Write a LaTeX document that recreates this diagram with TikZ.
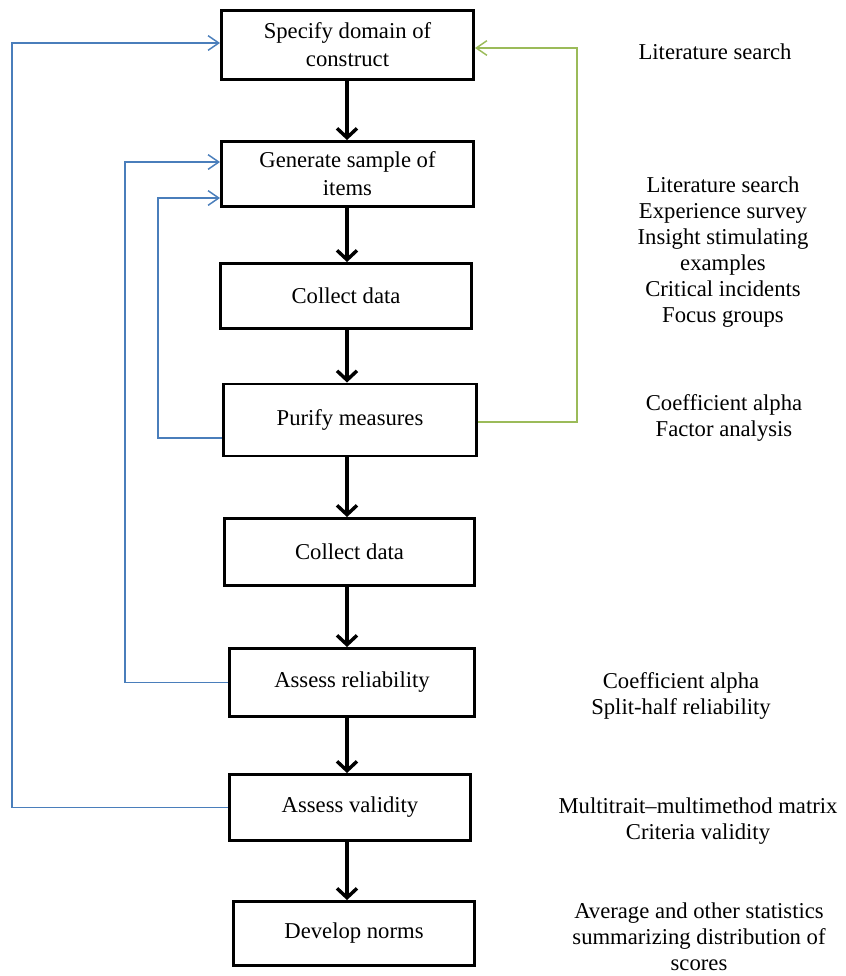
\documentclass[tikz,border=0pt]{standalone}
\usepackage{fontspec}
\setmainfont{Liberation Serif}
\usepackage{tikz}
\usetikzlibrary{positioning}
\usetikzlibrary{arrows.meta}
\definecolor{loopblue}{RGB}{74,126,187}
\definecolor{loopgreen}{RGB}{155,187,89}
\tikzstyle{stepbox}=[rectangle,draw=black,line width=2.2pt,align=center,inner sep=0pt,font=\fontsize{17}{21}\selectfont]
\tikzstyle{edge} = [draw,line width=2.6pt,-{Straight Barb[length=7pt,width=15pt]}]
\tikzstyle{backedge} = [draw,line width=1.1pt,loopblue,-{Straight Barb[length=8pt,width=11pt]}]
\tikzstyle{note}=[align=center,inner sep=0pt,font=\fontsize{17}{19.5}\selectfont]

\begin{document}
\begin{tikzpicture}[x=0.75pt,y=-0.75pt]
\useasboundingbox (0,0) rectangle (846,976);

 %Steps
 \foreach \x/\y/\w/\h/\name/\label in {347.5/45/252/69/specify/{Specify domain of\\construct},
      347.5/174/252/65/generate/{Generate sample of\\items},
      346/296/251/65/collecta/{Collect data},
      350/420/253/72/purify/{Purify measures},
      349.5/552/250/67/collectb/{Collect data},
      352/682.5/245/68/reliab/{Assess reliability},
      350/807.5/241/66/validity/{Assess validity},
      354/933.5/241/64/norms/{Develop norms}}
        \node[stepbox,minimum width=\w*0.75pt,minimum height=\h*0.75pt] (\name) at (\x,\y) {\label};

 %Main flow
 \coordinate (axis) at (347,0);
 \foreach \source/ \dest in {specify/generate, generate/collecta, collecta/purify, purify/collectb,
      collectb/reliab, reliab/validity, validity/norms}
        \path[edge] (axis |- \source.south) -- (axis |- \dest.north);

 %Feedback loops
 \coordinate (loopa) at (12,43);
 \coordinate (loopb) at (125,162);
 \coordinate (loopc) at (158,198);
 \coordinate (loopcs) at (158,438);
 \coordinate (loopd) at (577,48);
 \coordinate (loopds) at (577,422);

 \path[backedge] (validity.west) -| (loopa) -- (loopa -| specify.west);
 \path[backedge] (reliab.west) -| (loopb) -- (loopb -| generate.west);
 \path[backedge] (loopcs -| purify.west) -- (loopcs) -- (loopc) -- (loopc -| generate.west);
 \path[backedge,loopgreen] (loopds -| purify.east) -- (loopds) -- (loopd) -- (loopd -| specify.east);

 %Notes
 \node[note] (litnote) at (715,52) {Literature search};
 \node[note] (itemnote) at (723,252) {Literature search\\Experience survey\\Insight stimulating\\examples\\Critical incidents\\Focus groups};
 \node[note] (purifynote) at (724,418) {Coefficient alpha\\Factor analysis};
 \node[note] (reliabnote) at (681,696) {Coefficient alpha\\Split-half reliability};
 \node[note] (validnote) at (698,821) {Multitrait--multimethod matrix\\Criteria validity};
 \node[note] (normnote) at (699,937) {Average and other statistics\\summarizing distribution of\\scores};

\end{tikzpicture}
\end{document}
